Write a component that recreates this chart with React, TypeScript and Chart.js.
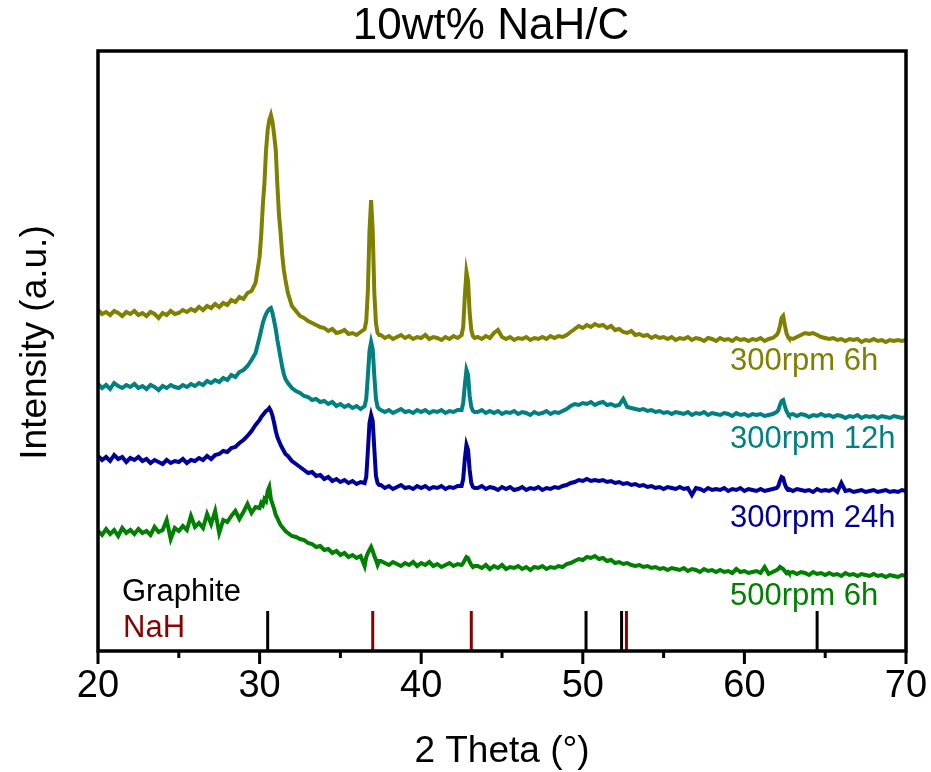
import React, { useEffect, useRef } from "react";
import { Chart, registerables } from "chart.js";

Chart.register(...registerables);

// 2θ sampling grid (degrees); finer steps across the diffraction peaks
const twoTheta = [
  20, 20.25, 20.5, 20.75, 21, 21.25, 21.5, 21.75, 22, 22.25,
  22.5, 22.75, 23, 23.25, 23.5, 23.75, 24, 24.25, 24.5, 24.75,
  25, 25.25, 25.5, 25.75, 26, 26.25, 26.5, 26.75, 27, 27.25,
  27.5, 27.75, 28, 28.25, 28.5, 28.75, 29, 29.25, 29.5, 29.75,
  30, 30.1, 30.2, 30.3, 30.4, 30.5, 30.6, 30.7, 30.8, 30.9,
  31, 31.1, 31.2, 31.3, 31.4, 31.5, 31.6,
  31.75, 32, 32.25, 32.5, 32.75, 33, 33.25, 33.5, 33.75, 34,
  34.25, 34.5, 34.75, 35, 35.25, 35.5, 35.75, 36, 36.25, 36.5,
  36.6, 36.7, 36.8, 36.9, 37, 37.1, 37.2, 37.3, 37.4,
  37.5, 37.75, 38, 38.25, 38.5, 38.75, 39, 39.25, 39.5, 39.75,
  40, 40.25, 40.5, 40.75, 41, 41.25, 41.5, 41.75, 42, 42.25,
  42.5, 42.6, 42.7, 42.8, 42.9, 43, 43.1, 43.2, 43.3,
  43.5, 43.75, 44, 44.25, 44.5, 44.75, 45, 45.25, 45.5, 45.75,
  46, 46.25, 46.5, 46.75, 47, 47.25, 47.5, 47.75, 48, 48.25,
  48.5, 48.75, 49, 49.25, 49.5, 49.75, 50, 50.25, 50.5, 50.75,
  51, 51.25, 51.5, 51.75, 52, 52.25, 52.5, 52.75, 53, 53.25,
  53.5, 53.75, 54, 54.25, 54.5, 54.75, 55, 55.25, 55.5, 55.75,
  56, 56.25, 56.5, 56.75, 57, 57.25, 57.5, 57.75, 58, 58.25,
  58.5, 58.75, 59, 59.25, 59.5, 59.75, 60, 60.25, 60.5, 60.75,
  61, 61.25, 61.5, 61.75, 62,
  62.1, 62.2, 62.3, 62.4, 62.5, 62.6, 62.7,
  62.75, 63, 63.25, 63.5, 63.75, 64, 64.25, 64.5, 64.75, 65,
  65.25, 65.5, 65.75, 66, 66.25, 66.5, 66.75, 67, 67.25, 67.5,
  67.75, 68, 68.25, 68.5, 68.75, 69, 69.25, 69.5, 69.75, 70,
];

// Offset intensities (a.u.), one value per 2θ sample
const rpm300h6 = [
  341, 337, 339, 336, 340, 338, 335, 339, 337, 340,
  336, 338, 335, 339, 337, 333, 338, 336, 340, 337,
  338, 341, 339, 342, 340, 344, 341, 345, 343, 347,
  344, 348, 346, 351, 349, 354, 352, 358, 360, 368,
  394, 416, 446, 468, 501, 521, 531, 536, 529, 516,
  501, 466, 436, 418, 396, 381, 371,
  358, 345, 340, 335, 333, 330, 328, 326, 324, 323,
  320, 322, 318, 319, 321, 317, 318, 316, 319, 322,
  330, 360, 420, 451, 420, 358, 328, 318, 316,
  316, 313, 315, 312, 314, 316, 313, 315, 312, 314,
  313, 316, 312, 314, 313, 311, 314, 312, 315, 313,
  316, 324, 355, 379, 370, 338, 321, 315, 313,
  314, 312, 315, 313, 318, 321, 314, 312, 314, 311,
  313, 312, 314, 311, 313, 312, 314, 312, 315, 313,
  315, 314, 316, 319, 322, 325, 323, 326, 324, 327,
  325, 326, 323, 325, 321, 322, 319, 318, 320, 316,
  317, 315, 316, 313, 315, 313, 314, 312, 314, 311,
  313, 312, 314, 311, 313, 312, 310, 313, 312, 310,
  313, 311, 312, 310, 313, 311, 312, 310, 312, 311,
  313, 310, 312, 313, 316,
  319, 325, 333, 335, 326, 318, 314,
  313, 312, 314, 316, 318, 317, 318, 316, 314, 313,
  312, 313, 311, 312, 310, 312, 311, 312, 309, 311,
  310, 312, 310, 311, 309, 311, 310, 311, 310, 311,
];

const rpm300h12 = [
  267, 263, 266, 262, 268, 265, 263, 266, 264, 267,
  263, 265, 262, 266, 264, 261, 265, 263, 266, 264,
  263, 266, 264, 267, 265, 268, 266, 270, 268, 271,
  269, 273, 271, 276, 274, 279, 281, 285, 291, 298,
  314, 321, 328, 333, 337, 340, 342, 343, 338, 330,
  322, 311, 302, 293, 284, 277, 272,
  268, 263, 260, 258, 255, 254, 251, 252, 249, 250,
  247, 249, 245, 247, 244, 246, 243, 245, 242, 245,
  252, 275, 300, 309, 302, 275, 252, 244, 242,
  241, 239, 241, 238, 240, 242, 239, 240, 238, 241,
  239, 241, 238, 240, 239, 241, 238, 240, 239, 241,
  241, 248, 266, 281, 276, 255, 244, 240, 239,
  239, 241, 238, 240, 238, 240, 237, 239, 238, 240,
  237, 239, 238, 236, 239, 237, 238, 240, 237, 239,
  238, 240, 242, 245, 247, 246, 248, 247, 249, 246,
  248, 249, 246, 247, 245, 246, 252, 244, 243, 242,
  241, 242, 240, 241, 239, 240, 238, 239, 237, 239,
  238, 237, 239, 236, 238, 237, 239, 236, 238, 237,
  236, 238, 237, 235, 238, 236, 237, 235, 237, 236,
  237, 235, 236, 237, 239,
  241, 246, 250, 251, 245, 240, 237,
  236, 237, 235, 237, 236, 234, 236, 235, 237, 235,
  236, 234, 236, 235, 233, 235, 234, 236, 233, 235,
  234, 235, 233, 235, 234, 233, 235, 234, 233, 234,
];

const rpm300h24 = [
  195, 191, 194, 190, 196, 192, 194, 189, 193, 191,
  194, 190, 192, 188, 191, 189, 187, 191, 188, 190,
  189, 192, 188, 191, 190, 193, 191, 195, 192, 196,
  197, 200, 199, 203, 204, 208, 211, 215, 220, 226,
  231, 234, 236, 238, 240, 241, 243, 240, 235, 228,
  220, 214, 210, 206, 203, 200, 197,
  195, 190, 187, 184, 181, 178, 179, 175, 176, 172,
  174, 170, 172, 169, 171, 168, 170, 167, 169, 168,
  174, 200, 228, 236, 230, 202, 175, 168, 166,
  166, 163, 165, 162, 164, 166, 163, 164, 162, 165,
  163, 165, 162, 164, 163, 165, 162, 164, 163, 165,
  165, 172, 192, 206, 201, 181, 168, 164, 163,
  163, 165, 162, 164, 163, 161, 164, 162, 164, 161,
  162, 164, 161, 163, 162, 164, 161, 163, 162, 164,
  163, 165, 166, 168, 169, 171, 170, 172, 170, 171,
  170, 171, 169, 170, 168, 169, 167, 168, 166, 167,
  165, 166, 164, 165, 163, 164, 162, 164, 163, 162,
  164, 162, 163, 156, 163, 162, 160, 163, 161, 162,
  161, 163, 160, 162, 161, 163, 160, 162, 161, 160,
  162, 160, 161, 162, 163,
  165, 170, 174, 173, 167, 163, 161,
  162, 160, 162, 161, 160, 161, 159, 162, 160, 161,
  160, 162, 159, 168, 160, 161, 159, 160, 161, 159,
  160, 161, 159, 160, 161, 159, 160, 159, 161, 160,
];

const rpm500h6 = [
  120, 116, 122, 117, 121, 115, 123, 118, 121, 117,
  122, 118, 120, 116, 124, 119, 121, 131, 112, 123,
  120, 125, 121, 135, 124, 128, 123, 137, 127, 140,
  118, 131, 129, 135, 140, 132, 139, 147, 138, 144,
  143, 148, 146, 152, 150, 160, 164, 152, 147, 142,
  136, 133, 129, 126, 124, 122, 120,
  118, 115, 114, 112, 111, 108, 107, 104, 105, 101,
  102, 98, 100, 96, 98, 94, 96, 93, 95, 85,
  94, 98, 101, 104, 100, 95, 91, 86, 90,
  90, 88, 86, 89, 87, 85, 88, 86, 89, 85,
  88, 86, 89, 85, 87, 84, 86, 88, 85, 87,
  86, 88, 91, 94, 93, 89, 86, 84, 85,
  85, 83, 86, 82, 85, 83, 86, 82, 84, 83,
  85, 82, 84, 81, 84, 83, 85, 82, 84, 83,
  85, 84, 87, 88, 90, 92, 91, 94, 93, 95,
  92, 93, 90, 91, 88, 89, 87, 88, 86, 85,
  86, 84, 85, 83, 84, 82, 83, 81, 83, 82,
  81, 83, 80, 82, 81, 79, 82, 80, 81, 79,
  81, 79, 80, 78, 82, 79, 80, 78, 79, 80,
  78, 84, 77, 79, 81,
  82, 84, 83, 82, 80, 78, 79,
  78, 79, 77, 79, 78, 76, 79, 77, 78, 76,
  78, 76, 77, 75, 78, 76, 77, 75, 77, 76,
  75, 77, 75, 76, 74, 76, 75, 74, 76, 75,
];

// Reference reflections (2θ, degrees)
const graphiteRefs = [30.5, 50.2, 52.4, 64.5];
const nahRefs = [37.0, 43.1, 52.7];
const refStickHeight = 40;

const seriesNames = ["300rpm 6h", "300rpm 12h", "300rpm 24h", "500rpm 6h"];
const seriesColors = ["#808000", "#008080", "#000099", "#008000"];
const seriesValues = [rpm300h6, rpm300h12, rpm300h24, rpm500h6];

const majorTicks = [20, 30, 40, 50, 60, 70];
const minorTicks = [25, 35, 45, 55, 65];

const FONT = "Arial, 'Liberation Sans', sans-serif";

const toPoints = (ys: number[]) => twoTheta.map((x, i) => ({ x, y: ys[i] }));
const sticks = (positions: number[]) =>
  positions.flatMap((p) => [
    { x: p, y: 0 },
    { x: p, y: refStickHeight },
    { x: p, y: null as any },
  ]);

const decorations = {
  id: "decorations",
  afterDraw(chart: any) {
    const { ctx, chartArea: a, scales } = chart;
    const xs = scales.x;
    ctx.save();
    ctx.strokeStyle = "#000";
    ctx.lineWidth = 3.5;
    ctx.strokeRect(a.left, a.top, a.right - a.left, a.bottom - a.top);

    ctx.lineWidth = 3;
    const tick = (v: number, len: number) => {
      const px = xs.getPixelForValue(v);
      ctx.beginPath();
      ctx.moveTo(px, a.bottom);
      ctx.lineTo(px, a.bottom + len);
      ctx.stroke();
    };
    majorTicks.forEach((v) => tick(v, 13));
    minorTicks.forEach((v) => tick(v, 7));

    ctx.fillStyle = "#000";
    ctx.textBaseline = "middle";
    ctx.textAlign = "center";
    ctx.font = `44px ${FONT}`;
    ctx.fillText("10wt% NaH/C", 491, 27);

    ctx.save();
    ctx.translate(35.5, 342.5);
    ctx.rotate(-Math.PI / 2);
    ctx.font = `37px ${FONT}`;
    ctx.fillText("Intensity (a.u.)", 0, 0);
    ctx.restore();

    ctx.textAlign = "left";
    ctx.font = `31px ${FONT}`;
    const labelY = [361, 439.5, 518, 596];
    seriesNames.forEach((name, i) => {
      ctx.fillStyle = seriesColors[i];
      ctx.fillText(name, 730, labelY[i]);
    });
    ctx.fillStyle = "#000";
    ctx.fillText("Graphite", 122, 592.5);
    ctx.fillStyle = "#8b0000";
    ctx.fillText("NaH", 123, 628);
    ctx.restore();
  },
};

export default function App() {
  const canvasRef = useRef<HTMLCanvasElement | null>(null);

  useEffect(() => {
    const canvas = canvasRef.current;
    if (!canvas) return;

    const datasets: any[] = [
      {
        data: sticks(graphiteRefs),
        borderColor: "#000",
        borderWidth: 3,
        pointRadius: 0,
        spanGaps: false,
      },
      {
        data: sticks(nahRefs),
        borderColor: "#8b0000",
        borderWidth: 3,
        pointRadius: 0,
        spanGaps: false,
      },
    ];
    for (let i = seriesValues.length - 1; i >= 0; i--) {
      datasets.push({
        label: seriesNames[i],
        data: toPoints(seriesValues[i]),
        borderColor: seriesColors[i],
        borderWidth: 4,
        pointRadius: 0,
        tension: 0,
      });
    }

    const chart = new Chart(canvas, {
      type: "line",
      data: { datasets },
      options: {
        animation: false,
        responsive: false,
        maintainAspectRatio: false,
        layout: { padding: { top: 51, right: 25, left: 0, bottom: 0 } },
        plugins: {
          legend: { display: false },
          tooltip: { enabled: false },
          title: { display: false },
        },
        scales: {
          x: {
            type: "linear",
            min: 20,
            max: 70,
            afterFit: (s: any) => {
              s.height = 121;
              s.paddingLeft = 0;
              s.paddingRight = 0;
            },
            afterBuildTicks: (s: any) => {
              s.ticks = majorTicks.map((value) => ({ value }));
            },
            grid: { display: false, drawTicks: false },
            border: { display: false },
            ticks: {
              color: "#000",
              font: { size: 38, family: FONT },
              padding: 13,
              maxRotation: 0,
              autoSkip: false,
            },
            title: {
              display: true,
              text: "2 Theta (°)",
              color: "#000",
              font: { size: 37, family: FONT, lineHeight: 1.1 },
              padding: 0,
            },
          },
          y: {
            min: 0,
            max: 600,
            afterFit: (s: any) => {
              s.width = 98;
              s.paddingTop = 0;
              s.paddingBottom = 0;
            },
            ticks: { display: false },
            grid: { display: false, drawTicks: false },
            border: { display: false },
          },
        },
      },
      plugins: [decorations],
    });

    return () => chart.destroy();
  }, []);

  return (
    <div style={{ position: "absolute", left: 0, top: 0, width: 931, height: 772, background: "#fff" }}>
      <canvas ref={canvasRef} width={931} height={772} />
    </div>
  );
}
